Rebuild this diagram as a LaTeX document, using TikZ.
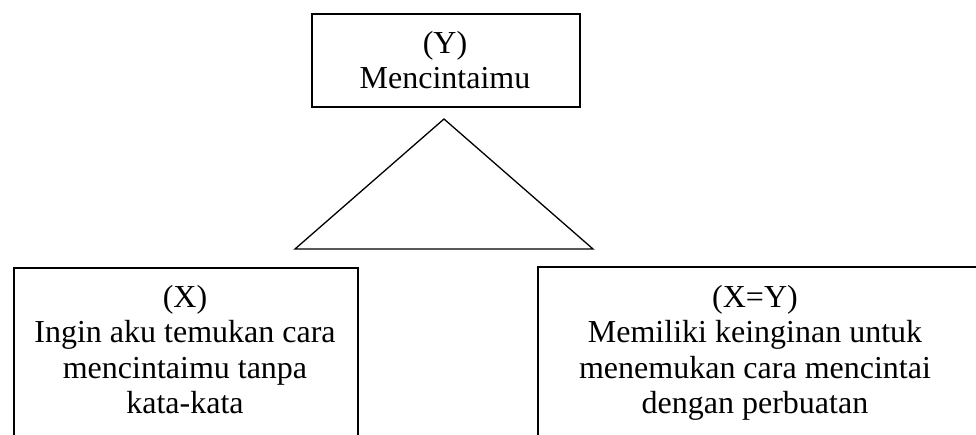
\documentclass[tikz,border=0pt]{standalone}
\usepackage{fontspec}
\setmainfont{Liberation Serif}
\begin{document}
\begin{tikzpicture}[x=1pt,y=-1pt,
  frame/.style={draw, line width=1.6pt, inner sep=0pt, anchor=north west},
  caption/.style={font=\fontsize{32}{35.5}\selectfont, align=center, inner sep=0pt, anchor=north}]
\useasboundingbox (0,0) rectangle (976,435);
\clip (0,0) rectangle (976,435);
% top box
\node[frame, minimum width=268pt, minimum height=93pt] (ybox) at (311,13) {};
\node[caption] (ytext) at (445,31) {(Y)\\Mencintaimu};
% triangle
\coordinate (apex) at (444,119);
\coordinate (bl) at (295,249);
\coordinate (br) at (593,249);
\draw[line width=1.3pt] (apex) -- (bl) -- (br) -- cycle;
% lower boxes, open past the page edge
\node[frame, minimum width=344pt, minimum height=200pt] (xbox) at (13,267) {};
\node[caption] (xtext) at (185,285) {(X)\\Ingin aku temukan cara\\mencintaimu tanpa\\kata-kata};
\node[frame, minimum width=460pt, minimum height=200pt] (xybox) at (537,266) {};
\node[caption] (xytext) at (755,285) {(X=Y)\\Memiliki keinginan untuk\\menemukan cara mencintai\\dengan perbuatan};
\end{tikzpicture}
\end{document}
